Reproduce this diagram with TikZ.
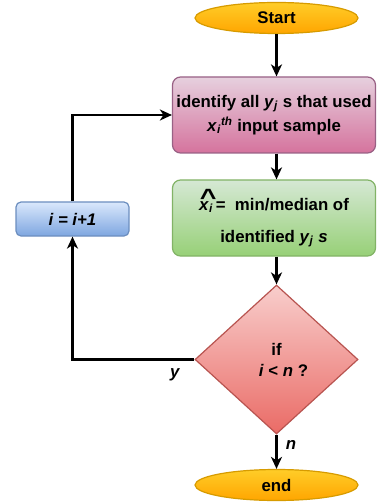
\documentclass[tikz,border=0pt]{standalone}
\usepackage{fontspec}
\setmainfont{Liberation Sans}
\usetikzlibrary{shapes.geometric,arrows.meta}
\definecolor{yTop}{HTML}{FFCD28}\definecolor{yBot}{HTML}{FFA500}\definecolor{yDr}{HTML}{D79B00}
\definecolor{pTop}{HTML}{E6D0DE}\definecolor{pBot}{HTML}{D5739D}\definecolor{pDr}{HTML}{996185}
\definecolor{gTop}{HTML}{D5E8D4}\definecolor{gBot}{HTML}{97D077}\definecolor{gDr}{HTML}{82B366}
\definecolor{bTop}{HTML}{DAE8FC}\definecolor{bBot}{HTML}{7EA6E0}\definecolor{bDr}{HTML}{6C8EBF}
\definecolor{rTop}{HTML}{F8CECC}\definecolor{rBot}{HTML}{EA6B66}\definecolor{rDr}{HTML}{B85450}
\newcommand\vv[1]{\textit{#1}}
\newcommand\sub[1]{\textsubscript{\textit{#1}}}
\newcommand\hatx{\rlap{\hspace{0.8pt}\raisebox{5pt}{\scalebox{1.7}[1.4]{\^{}}}}\textit{x}}
\tikzset{
  txt/.style={font=\fontsize{16.8}{20}\selectfont\bfseries, align=center, text=black},
  term/.style={txt, ellipse, draw=yDr, line width=1.2pt, top color=yTop, bottom color=yBot, minimum width=163, minimum height=31, inner sep=0pt},
  procbox/.style={txt, rectangle, rounded corners=8pt, line width=1.2pt, minimum width=203, minimum height=76, inner sep=0pt},
  arr/.style={line width=2.3pt, -{Stealth[length=12pt,width=11pt,inset=3.5pt]}},
  lbl/.style={font=\fontsize{16.8}{20}\selectfont\bfseries\itshape}
}
\begin{document}
\begin{tikzpicture}[x=1pt,y=-1pt]
\clip (0,0) rectangle (376,502);
\node[term] (start) at (276.5,18) {Start};
\node[procbox, draw=pDr, top color=pTop, bottom color=pBot] (pink) at (274,115)
  {identify all \vv{y}\sub{j} s that used\\[4pt] \vv{x}\sub{i}\textsuperscript{\textit{th}} input sample};
\node[procbox, draw=gDr, top color=gTop, bottom color=gBot] (green) at (274,218)
  {\hatx\sub{i}\,= \ min/median of\\[12pt] identified \vv{y}\sub{j} \vv{s}};
\node[diamond, txt, draw=rDr, line width=1.2pt, top color=rTop, bottom color=rBot, minimum width=163, minimum height=149, inner sep=0pt] (dec) at (276.5,359.5)
  {if\\[1pt] \hspace*{14pt}\vv{i} < \vv{n} ?};
\node[term] (end) at (276.5,485) {end};
\node[txt, rectangle, rounded corners=5pt, draw=bDr, line width=1.2pt, top color=bTop, bottom color=bBot, minimum width=113, minimum height=34, inner sep=0pt, font=\fontsize{16.8}{20}\selectfont\bfseries\itshape] (inc) at (72.5,219) {i = i+1};
\draw[arr] (start.south) -- (start.south |- pink.north);
\draw[arr] (start.south |- pink.south) -- (start.south |- green.north);
\draw[arr] (dec.north |- green.south) -- (dec.north);
\draw[arr] (dec.south) -- (end.north) node[lbl, pos=0.3, right=5pt] {n};
\draw[arr] (dec.west) -| (inc.south) node[lbl, pos=0.08, below=5pt] {y};
\draw[arr] (inc.north) |- (pink.west);
\end{tikzpicture}
\end{document}
